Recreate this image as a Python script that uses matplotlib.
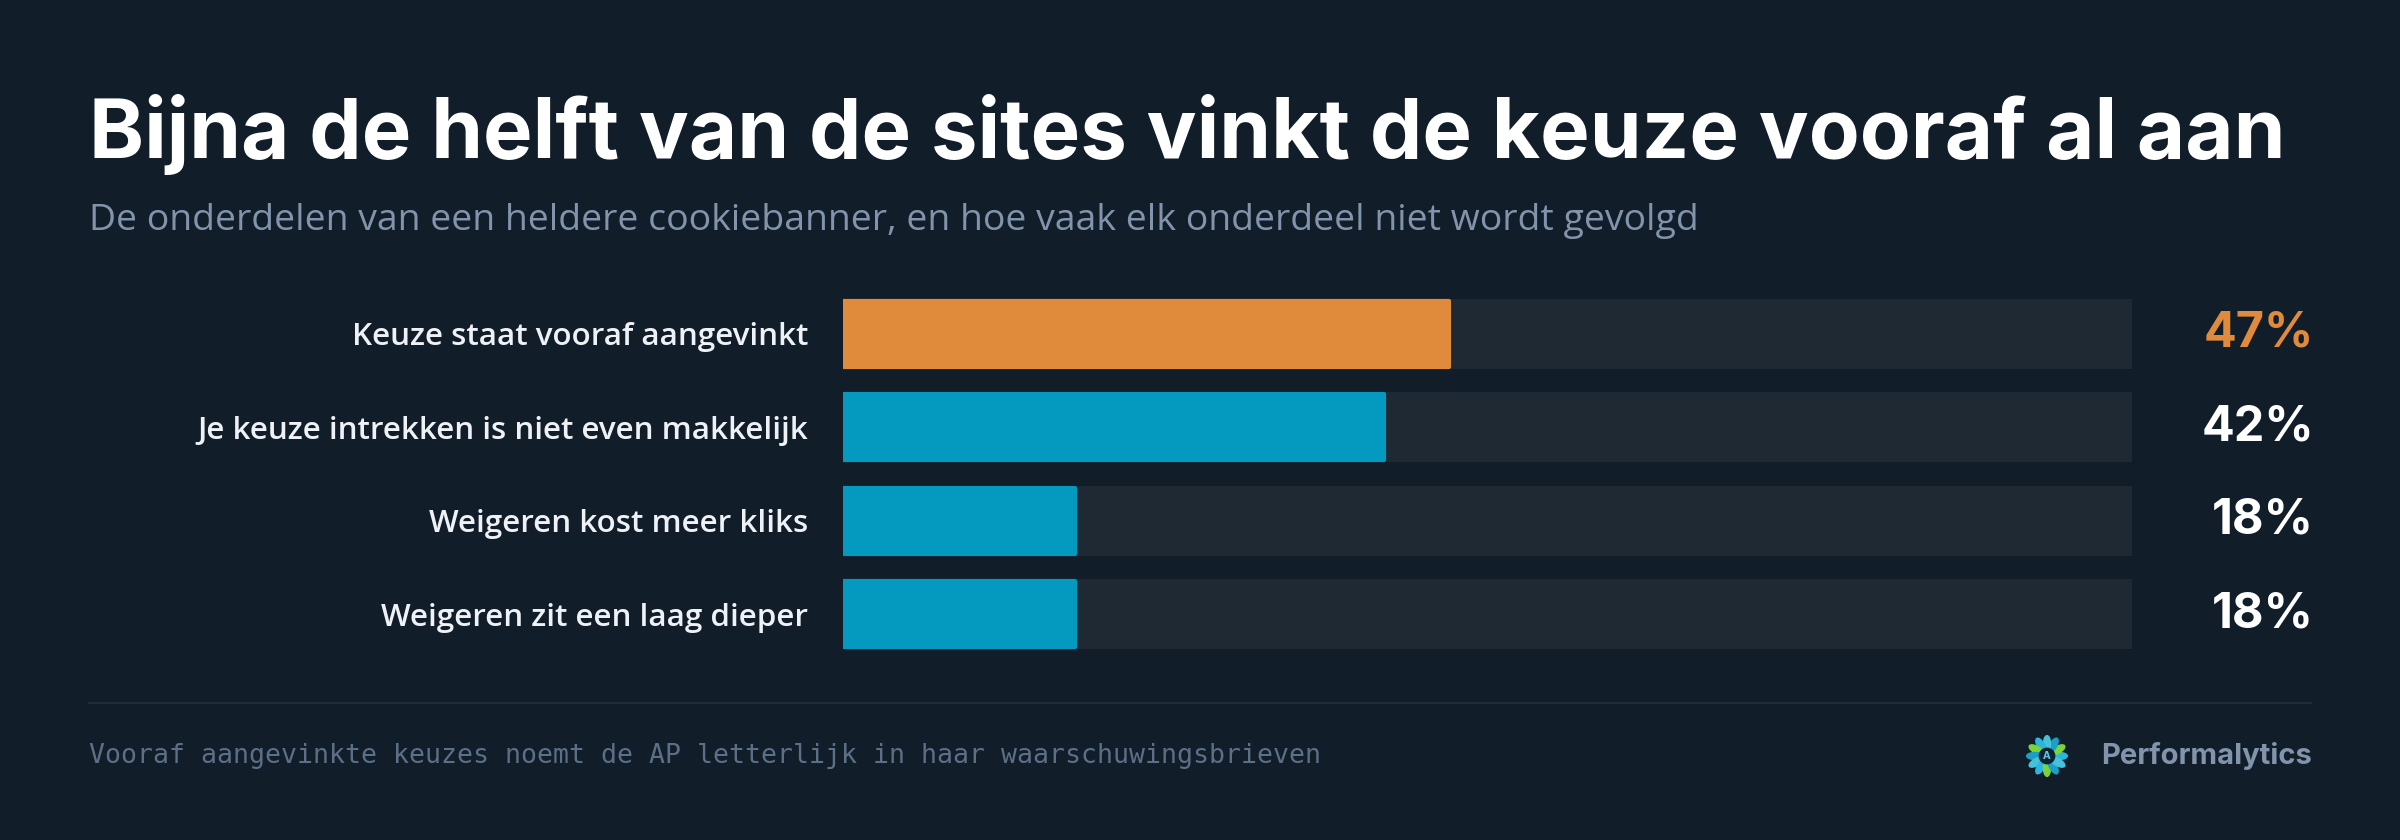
import matplotlib
matplotlib.use("Agg")
import matplotlib.pyplot as plt
import matplotlib.transforms as mtransforms
from matplotlib.patches import Ellipse, Circle
import numpy as np

# data
categories = [
    "Keuze staat vooraf aangevinkt",
    "Je keuze intrekken is niet even makkelijk",
    "Weigeren kost meer kliks",
    "Weigeren zit een laag dieper",
]
values = [47, 42, 18, 18]
highlight = [True, False, False, False]

title = "Bijna de helft van de sites vinkt de keuze vooraf al aan"
subtitle = "De onderdelen van een heldere cookiebanner, en hoe vaak elk onderdeel niet wordt gevolgd"
footnote = "Vooraf aangevinkte keuzes noemt de AP letterlijk in haar waarschuwingsbrieven"
brand = "Performalytics"

BG = "#121d2a"
TRACK = "#1f2934"
ORANGE = "#e08a3c"
BLUE = "#0499bf"
WHITE = "#ffffff"
LABEL = "#eef2f6"
MUTED = "#8194ab"
FOOT = "#5b6f86"

W, H = 2400, 840
fig = plt.figure(figsize=(W / 100, H / 100), dpi=100, facecolor=BG)


def fx(px):
    return px / W


def fy(px):
    return 1 - px / H


fig.text(fx(89), fy(158), title, fontsize=60, fontweight="bold",
         family="Inter", color=WHITE, ha="left", va="baseline")
fig.text(fx(89), fy(230), subtitle, fontsize=26.9, family="Open Sans",
         color=MUTED, ha="left", va="baseline")

ax = fig.add_axes([fx(843), 0.2132, fx(2132) - fx(843), 0.4448])
ax.set_facecolor(BG)
y = np.arange(len(categories))
bh = 0.707
colors = [ORANGE if h else BLUE for h in highlight]
ax.barh(y, [100] * len(y), height=bh, color=TRACK, edgecolor=TRACK,
        linewidth=3, joinstyle="round")
ax.barh(y, values, height=bh, color=colors, edgecolor=colors,
        linewidth=3, joinstyle="round")
ax.set_xlim(0, 100)
ax.set_ylim(len(y) - 0.5, -0.5)
ax.set_yticks(y)
ax.set_yticklabels(categories, fontsize=22.6, family="Open Sans",
                   fontweight="semibold", color=LABEL)
ax.tick_params(axis="y", length=0, pad=25)
ax.set_xticks([])
for s in ax.spines.values():
    s.set_visible(False)

trans = mtransforms.blended_transform_factory(fig.transFigure, ax.transData)
for yi, v, hl in zip(y, values, highlight):
    ax.text(fx(2314), yi, f"{v}%", transform=trans, ha="right", va="center",
            fontsize=35, fontweight="bold", family="Inter",
            color=ORANGE if hl else WHITE)

fig.add_artist(plt.Line2D([fx(89), fx(2311)], [fy(703), fy(703)],
                          color="#222c39", linewidth=1.5))
fig.text(fx(89), fy(756), footnote, fontsize=19.1, family="DejaVu Sans Mono",
         color=FOOT, ha="left", va="center")
fig.text(fx(2312), fy(756), brand, fontsize=21, fontweight="bold",
         family="Inter", color=MUTED, ha="right", va="center")

# small logo mark
lax = fig.add_axes([fx(2025), fy(778), fx(44), 44 / H])
lax.set_xlim(-1, 1)
lax.set_ylim(-1, 1)
lax.set_aspect("equal")
lax.axis("off")
petal_cols = ["#29b6e0", "#7bd33a", "#1aa0c8", "#46c2d8"]
for i, ang in enumerate(np.arange(0, 360, 30)):
    a = np.deg2rad(ang)
    lax.add_patch(Ellipse((0.55 * np.cos(a), 0.55 * np.sin(a)), 0.75, 0.32,
                          angle=ang, color=petal_cols[i % 4]))
lax.add_patch(Circle((0, 0), 0.35, color="#0d2233"))
lax.text(0, 0, "A", ha="center", va="center", fontsize=7, color="#5fc3e0",
         fontweight="bold")

fig.savefig("out.png", dpi=100, facecolor=BG)
